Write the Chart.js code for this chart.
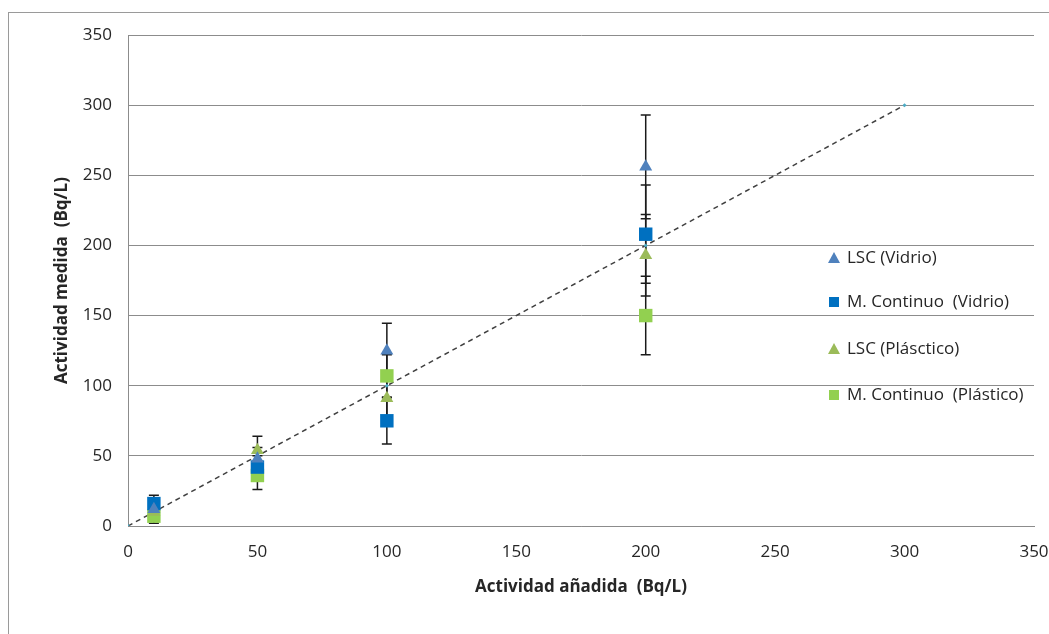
<!DOCTYPE html>
<html>
<head>
<meta charset="utf-8">
<title>Actividad medida vs añadida</title>
<script src="https://cdn.jsdelivr.net/npm/chart.js@4.4.1/dist/chart.umd.min.js"></script>
<style>
  html, body { margin: 0; padding: 0; background: #fff; }
  #wrap { width: 1049px; height: 634px; }
</style>
</head>
<body>
<div id="wrap"><canvas id="chart" width="1049" height="634"></canvas></div>
<script>
// actividad añadida (Bq/L)
var added = [10, 50, 100, 200];

// actividad medida por método y recipiente
var lscVidrio = [12, 48, 125, 256];
var mcVidrio = [16, 42, 75, 208];
var lscPlastico = [10, 54, 91, 193];
var mcPlastico = [7, 36, 107, 150];

// incertidumbres (±)
var errLscVidrio = [6, 8, 19.5, 37];
var errMcVidrio = [6, 8, 16.5, 35];
var errLscPlastico = [5, 10, 14, 29];
var errMcPlastico = [5, 10, 15, 28];

// recta 1:1
var refX = [0, 10, 50, 100, 200, 300];
var refY = [0, 10, 50, 100, 200, 300];

var seriesNames = ['LSC (Vidrio)', 'M. Continuo  (Vidrio)', 'LSC (Plásctico)', 'M. Continuo  (Plástico)'];

var FONT = "'Open Sans', 'Liberation Sans', sans-serif";
var GRID = '#8c8c8c';

function toPoints(xs, ys) {
  return xs.map(function (x, i) { return { x: x, y: ys[i] }; });
}

var scatterSets = [
  { label: seriesNames[0], data: toPoints(added, lscVidrio), err: errLscVidrio, style: 'triangle', color: '#4f81bd', radius: 7.5 },
  { label: seriesNames[1], data: toPoints(added, mcVidrio), err: errMcVidrio, style: 'rect', color: '#0070c0', radius: 9.5 },
  { label: seriesNames[2], data: toPoints(added, lscPlastico), err: errLscPlastico, style: 'triangle', color: '#9bbb59', radius: 7.5 },
  { label: seriesNames[3], data: toPoints(added, mcPlastico), err: errMcPlastico, style: 'rect', color: '#92d050', radius: 9.5 }
];

var datasets = scatterSets.map(function (s) {
  return {
    type: 'scatter',
    label: s.label,
    data: s.data,
    errors: s.err,
    pointStyle: s.style,
    pointRadius: s.radius,
    pointHoverRadius: s.radius,
    pointBackgroundColor: s.color,
    pointBorderColor: s.color,
    pointBorderWidth: 0,
    showLine: false
  };
});

datasets.push({
  type: 'line',
  label: '1:1',
  data: toPoints(refX, refY),
  borderColor: '#404040',
  borderWidth: 1.5,
  borderDash: [5, 4],
  pointRadius: 2,
  pointStyle: 'rectRot',
  pointBackgroundColor: '#4bacc6',
  pointBorderColor: '#4bacc6',
  pointBorderWidth: 0,
  fill: false
});

// marco exterior del gráfico
var frame = {
  id: 'frame',
  beforeDraw: function (chart) {
    var ctx = chart.ctx;
    ctx.save();
    ctx.fillStyle = '#fff';
    ctx.fillRect(0, 0, chart.width, chart.height);
    ctx.strokeStyle = '#9a9a9a';
    ctx.lineWidth = 1;
    ctx.strokeRect(8.5, 12.5, chart.width + 20, chart.height + 20);
    ctx.restore();
  }
};

// barras de error verticales
var errorBars = {
  id: 'errorBars',
  beforeDatasetsDraw: function (chart) {
    var ctx = chart.ctx;
    var xs = chart.scales.x, ys = chart.scales.y;
    ctx.save();
    ctx.strokeStyle = '#1a1a1a';
    ctx.lineWidth = 1.5;
    chart.data.datasets.forEach(function (ds) {
      if (!ds.errors) return;
      ds.data.forEach(function (p, i) {
        var e = ds.errors[i];
        var px = xs.getPixelForValue(p.x);
        var top = ys.getPixelForValue(p.y + e);
        var bot = ys.getPixelForValue(p.y - e);
        ctx.beginPath();
        ctx.moveTo(px, top); ctx.lineTo(px, bot);
        ctx.moveTo(px - 5, top); ctx.lineTo(px + 5, top);
        ctx.moveTo(px - 5, bot); ctx.lineTo(px + 5, bot);
        ctx.stroke();
      });
    });
    ctx.restore();
  }
};

// leyenda dentro del área de trazado
var sideLegend = {
  id: 'sideLegend',
  afterDraw: function (chart) {
    var ctx = chart.ctx;
    var rows = [258, 302, 349, 395];
    ctx.save();
    ctx.font = '17px ' + FONT;
    ctx.textBaseline = 'middle';
    scatterSets.forEach(function (s, i) {
      var y = rows[i];
      ctx.fillStyle = s.color;
      ctx.beginPath();
      if (s.style === 'triangle') {
        ctx.moveTo(834, y - 6); ctx.lineTo(840, y + 5); ctx.lineTo(828, y + 5);
      } else {
        ctx.rect(829, y - 5, 10, 10);
      }
      ctx.fill();
      ctx.fillStyle = '#262626';
      ctx.fillText(s.label, 847, y);
    });
    ctx.restore();
  }
};

new Chart(document.getElementById('chart'), {
  type: 'scatter',
  data: { datasets: datasets },
  plugins: [frame, errorBars, sideLegend],
  options: {
    responsive: false,
    animation: false,
    layout: { padding: { left: 0, top: 35, right: 15, bottom: 0 } },
    plugins: {
      legend: { display: false },
      tooltip: { enabled: false }
    },
    scales: {
      x: {
        type: 'linear',
        min: 0,
        max: 350,
        ticks: { stepSize: 50, color: '#262626', padding: 16, font: { family: FONT, size: 17 } },
        grid: { display: false, drawTicks: false },
        border: { display: true, color: GRID, width: 1 },
        title: {
          display: true,
          text: 'Actividad añadida  (Bq/L)',
          color: '#262626',
          font: { family: FONT, size: 17, weight: 'bold' },
          padding: { top: 0, bottom: 37 }
        },
        afterFit: function (scale) {
          scale.height = 108;
          scale.paddingLeft = 0;
          scale.paddingRight = 0;
        }
      },
      y: {
        type: 'linear',
        min: 0,
        max: 350,
        ticks: { stepSize: 50, color: '#262626', padding: 16, font: { family: FONT, size: 17 } },
        grid: { color: GRID, lineWidth: 1, drawTicks: false },
        border: { display: true, color: GRID, width: 1 },
        title: {
          display: true,
          text: 'Actividad medida  (Bq/L)',
          color: '#262626',
          font: { family: FONT, size: 17, weight: 'bold' },
          padding: { top: 52, bottom: 0 }
        },
        afterFit: function (scale) { scale.width = 128; }
      }
    }
  }
});
</script>
</body>
</html>
